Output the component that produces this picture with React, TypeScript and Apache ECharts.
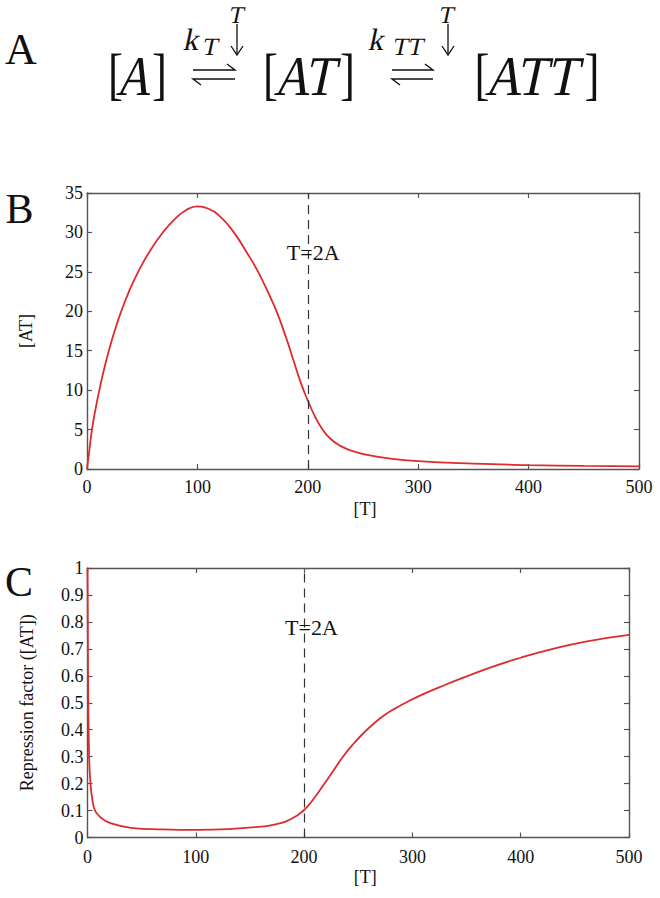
import React, { useEffect, useRef } from "react";
import * as echarts from "echarts";

// ---------- data ----------
const tTickValues = [0, 100, 200, 300, 400, 500];

// Panel B: [AT] vs [T]
const bT = [0, 2, 4.5, 8, 11.2, 15, 19.8, 25, 30.5, 38, 46, 57, 69, 80, 90, 100, 110, 120, 132, 145, 155, 165, 172, 180, 187, 194, 200, 206, 212, 220, 230, 240, 255, 270, 300, 350, 400, 450, 500];
const bAT = [0, 2.2, 5, 7.8, 10, 12.4, 15, 17.5, 19.8, 22.5, 24.9, 27.65, 30.05, 31.75, 32.85, 33.3, 33.0, 32.1, 30.2, 27.4, 25, 22.1, 19.9, 16.8, 13.8, 10.8, 8.7, 6.8, 5.3, 3.9, 2.9, 2.3, 1.75, 1.4, 1.0, 0.68, 0.5, 0.4, 0.34];

// Panel C: repression factor vs [T]
const cT = [0, 0.5, 1.5, 2.8, 4.5, 7, 12, 20, 40, 70, 100, 130, 160, 170, 180, 186, 192, 196, 200, 205, 210, 215, 220, 227, 235, 245, 255, 265, 275, 285, 295, 310, 330, 349, 375, 400, 427, 460, 500];
const cR = [1.0, 0.6, 0.3, 0.2, 0.14, 0.1, 0.075, 0.055, 0.036, 0.03, 0.028, 0.031, 0.04, 0.046, 0.055, 0.065, 0.078, 0.089, 0.102, 0.124, 0.15, 0.178, 0.207, 0.248, 0.295, 0.345, 0.388, 0.425, 0.456, 0.481, 0.503, 0.532, 0.566, 0.596, 0.635, 0.667, 0.697, 0.727, 0.752];

const markerT = 200;
const markerLabel = "T=2A";
const bMarkerPos = [181, 27.5];
const cMarkerPos = [182.4, 0.781];

// ---------- styles ----------
const SERIF = "Liberation Serif";
const FRAME = "#555555";
const RED = "#df2a2e";
const TXT = "#111111";

function zip(xs: number[], ys: number[]) {
  return xs.map((x, i) => [x, ys[i]]);
}

function xAxes(gridIndex: number, nameGap: number, labelMargin: number, namePad: number) {
  const common = {
    gridIndex,
    type: "value" as const,
    min: 0,
    max: 500,
    interval: 100,
    splitLine: { show: false },
    axisLine: { show: true, onZero: false, lineStyle: { color: FRAME, width: 1.4 } },
    axisTick: { show: true, inside: true, length: 5, lineStyle: { color: FRAME, width: 1.2 } },
  };
  return [
    {
      ...common,
      position: "bottom",
      name: "[T]",
      nameLocation: "middle",
      nameGap,
      nameTextStyle: { fontFamily: SERIF, fontSize: 18, color: TXT, padding: [0, 0, 0, namePad] },
      axisLabel: { show: true, margin: labelMargin, fontFamily: SERIF, fontSize: 18, color: TXT },
    },
    {
      ...common,
      position: "top",
      axisLabel: { show: false },
    },
  ];
}

function yAxes(gridIndex: number, max: number, interval: number, name: string) {
  const common = {
    gridIndex,
    type: "value" as const,
    min: 0,
    max,
    interval,
    splitLine: { show: false },
    axisLine: { show: true, onZero: false, lineStyle: { color: FRAME, width: 1.4 } },
    axisTick: { show: true, inside: true, length: 5, lineStyle: { color: FRAME, width: 1.2 } },
  };
  return [
    {
      ...common,
      position: "left",
      name,
      nameLocation: "middle",
      nameGap: 52,
      nameTextStyle: { fontFamily: SERIF, fontSize: 18, color: TXT },
      axisLabel: { show: true, margin: 4, fontFamily: SERIF, fontSize: 18, color: TXT },
    },
    {
      ...common,
      position: "right",
      axisLabel: { show: false },
    },
  ];
}

function markerSeriesParts(pos: number[]) {
  return {
    markLine: {
      silent: true,
      symbol: ["none", "none"],
      label: { show: false },
      lineStyle: { color: "#333333", width: 1.2, type: [9, 6] },
      data: [{ xAxis: markerT }],
    },
    markPoint: {
      silent: true,
      symbol: "rect",
      symbolSize: 0.01,
      itemStyle: { color: "rgba(0,0,0,0)" },
      label: {
        show: true,
        position: "right",
        distance: 0,
        formatter: markerLabel,
        fontFamily: SERIF,
        fontSize: 22,
        color: TXT,
        align: "left",
        verticalAlign: "middle",
      },
      data: [{ coord: pos }],
    },
  };
}

function txt(x: number, y: number, text: string, size: number, italic = false, scaleX = 1) {
  return {
    type: "text",
    x,
    y,
    scaleX,
    skewX: italic ? -0.21 : 0,
    silent: true,
    style: {
      text,
      x: 0,
      y: 0,
      fontFamily: SERIF,
      fontSize: size,
      fontWeight: "normal",
      fill: TXT,
      textAlign: "center",
      textVerticalAlign: "middle",
      align: "center",
      verticalAlign: "middle",
    },
  };
}

function harpoon(x0: number, x1: number) {
  const ls = { stroke: TXT, lineWidth: 1.4, fill: "none" };
  return [
    { type: "polyline", silent: true, shape: { points: [[x0, 70], [x1, 70], [x1 - 8, 64]] }, style: ls },
    { type: "polyline", silent: true, shape: { points: [[x1, 79], [x0, 79], [x0 + 8, 85]] }, style: ls },
  ];
}

function downArrow(x: number) {
  const ls = { stroke: TXT, lineWidth: 1.3, fill: "none" };
  return [
    { type: "line", silent: true, shape: { x1: x, y1: 24, x2: x, y2: 54 }, style: ls },
    { type: "polyline", silent: true, shape: { points: [[x - 6, 46], [x, 55], [x + 6, 46]] }, style: ls },
  ];
}

export default function App() {
  const ref = useRef<HTMLDivElement>(null);

  useEffect(() => {
    if (!ref.current) return;
    const chart = echarts.init(ref.current, null, { renderer: "svg" });

    const lineSeries = (xi: number, data: number[][], pos: number[]) => ({
      type: "line",
      xAxisIndex: xi,
      yAxisIndex: xi,
      data,
      showSymbol: false,
      symbol: "none",
      smooth: 0.5,
      smoothConstraint: false,
      lineStyle: { color: RED, width: 1.8 },
      ...markerSeriesParts(pos),
    });

    const option: any = {
      animation: false,
      backgroundColor: "#ffffff",
      grid: [
        { left: 87, top: 193, width: 552, height: 276 },
        { left: 87.5, top: 568, width: 541.5, height: 269.5 },
      ],
      xAxis: [...xAxes(0, 31, 9, 4), ...xAxes(1, 30, 10, 14)],
      yAxis: [...yAxes(0, 35, 5, "[AT]"), ...yAxes(1, 1, 0.1, "Repression factor ([AT])")],
      series: [
        lineSeries(0, zip(bT, bAT), bMarkerPos),
        lineSeries(2, zip(cT, cR), cMarkerPos),
      ],
      graphic: [
        // panel letters
        txt(21, 49, "A", 44),
        txt(19.5, 209, "B", 42),
        txt(19, 582, "C", 42),
        // reaction scheme: [A] ⇌ [AT] ⇌ [ATT]
        txt(115.5, 74, "[", 56, false, 0.8),
        txt(137, 76, "A", 56, true, 0.85),
        txt(159.5, 74, "]", 56, false, 0.8),
        txt(270.5, 74, "[", 56, false, 0.8),
        txt(308, 76, "AT", 56, true, 0.88),
        txt(347.5, 74, "]", 56, false, 0.8),
        txt(482, 74, "[", 56, false, 0.8),
        txt(535, 76, "ATT", 56, true, 0.9),
        txt(592, 74, "]", 56, false, 0.8),
        ...harpoon(193, 235),
        ...harpoon(392, 433),
        ...downArrow(237),
        ...downArrow(448),
        txt(237, 14.5, "T", 24, true),
        txt(447, 14.5, "T", 24, true),
        txt(192.5, 39.5, "k", 31, true),
        txt(211, 46.5, "T", 25, true),
        txt(377.5, 39.5, "k", 31, true),
        txt(409, 46.5, "TT", 25, true),
      ],
    };

    chart.setOption(option);
    return () => chart.dispose();
  }, []);

  return (
    <div
      ref={ref}
      style={{ position: "absolute", left: 0, top: 0, width: 660, height: 898 }}
    />
  );
}
